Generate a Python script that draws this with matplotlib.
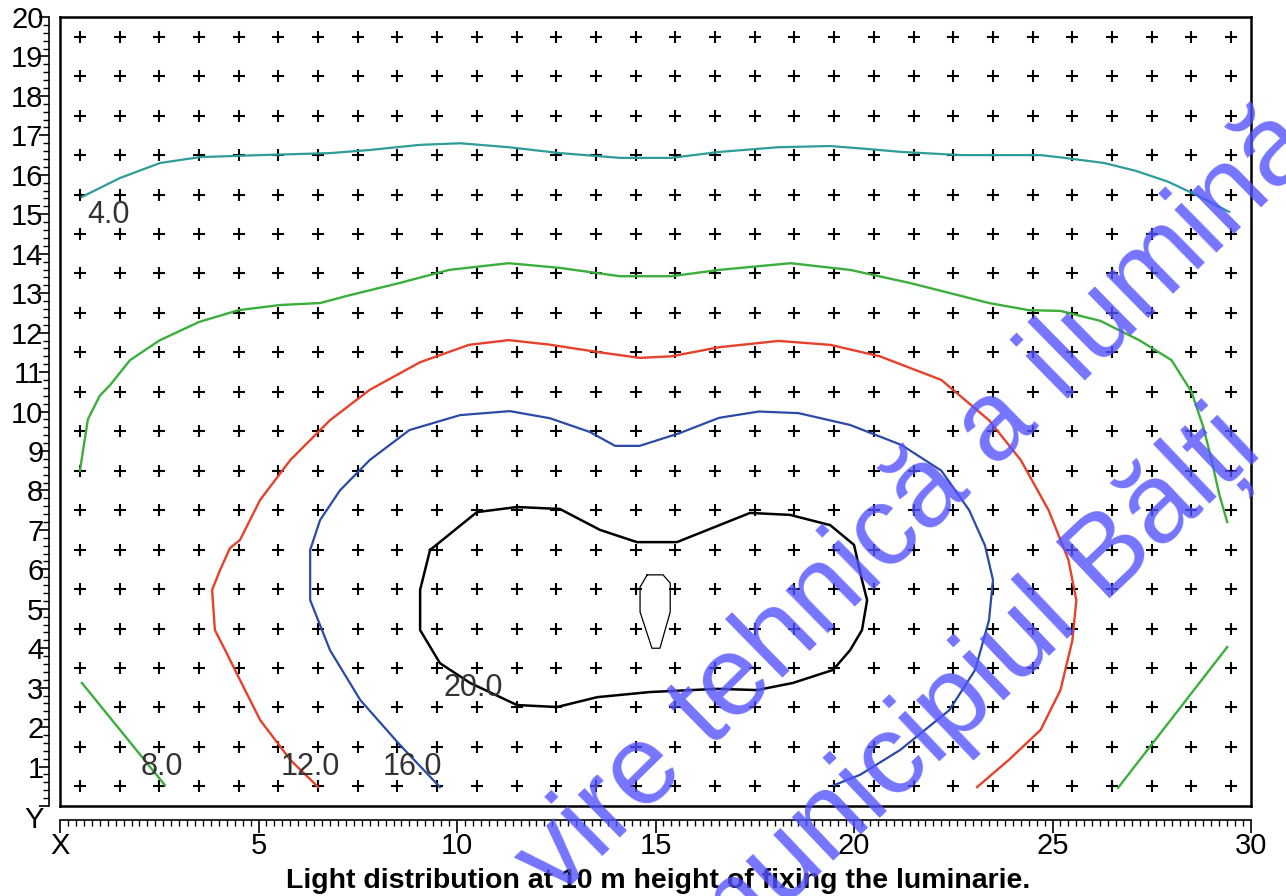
import matplotlib
matplotlib.use("Agg")
import matplotlib.pyplot as plt
import numpy as np
from matplotlib.ticker import MultipleLocator, FixedLocator

plt.rcParams["font.family"] = ["Liberation Sans", "DejaVu Sans"]

# calculation grid (points every 1 m, centred in the cells)
grid_x = np.arange(0.5, 30, 1.0)
grid_y = np.arange(0.5, 20, 1.0)

# isolux lines (x, y in m)
iso4_x = [0.55, 1.51, 2.52, 3.53, 5.04, 6.8, 7.8, 9.07, 10.08, 11.3, 12.6, 14.1, 15.4, 16.6,
          18.1, 19.4, 20.4, 21.2, 22.7, 24.0, 24.7, 25.3, 26.3, 27.1, 27.9, 28.6, 29.45]
iso4_y = [15.44, 15.92, 16.3, 16.45, 16.5, 16.55, 16.63, 16.76, 16.8, 16.7, 16.55, 16.43, 16.43, 16.58,
          16.7, 16.73, 16.65, 16.58, 16.5, 16.5, 16.5, 16.43, 16.3, 16.1, 15.83, 15.5, 15.06]

iso8_x = [0.5, 0.7, 1.0, 1.26, 1.76, 2.5, 3.5, 4.5, 5.54, 6.55, 7.3, 8.56, 9.8, 11.3, 12.6, 14.1,
          15.4, 16.6, 18.4, 19.9, 21.4, 22.7, 23.4, 24.4, 25.2, 26.2, 27.2, 28.0, 28.5, 28.8, 29.0,
          29.2, 29.4]
iso8_y = [8.5, 9.8, 10.4, 10.67, 11.3, 11.8, 12.27, 12.57, 12.7, 12.75, 12.95, 13.26, 13.59, 13.76,
          13.64, 13.43, 13.43, 13.59, 13.76, 13.59, 13.26, 12.93, 12.75, 12.57, 12.55, 12.3, 11.8,
          11.3, 10.5, 9.6, 8.8, 7.9, 7.2]
iso8_left_x = [0.55, 2.64]
iso8_left_y = [3.12, 0.53]
iso8_right_x = [26.65, 29.4]
iso8_right_y = [0.46, 4.03]

iso12_x = [6.5, 5.8, 5.04, 4.53, 4.16, 3.9, 3.83, 4.03, 4.28, 4.53, 5.04, 5.8, 6.8, 7.8, 9.07,
           10.3, 11.3, 12.3, 13.6, 14.6, 15.4, 16.6, 18.1, 19.4, 20.65, 22.2, 23.4, 24.2, 24.9,
           25.4, 25.6, 25.5, 25.2, 24.7, 23.9, 23.1]
iso12_y = [0.48, 1.17, 2.18, 3.2, 3.95, 4.46, 5.48, 5.98, 6.54, 6.74, 7.76, 8.77, 9.78, 10.55,
           11.25, 11.69, 11.81, 11.7, 11.5, 11.36, 11.4, 11.63, 11.79, 11.69, 11.4, 10.8, 9.78,
           8.77, 7.5, 6.24, 5.22, 4.2, 2.94, 1.93, 1.17, 0.48]

iso16_x = [9.57, 8.56, 7.56, 6.8, 6.3, 6.3, 6.55, 7.05, 7.8, 8.8, 10.08, 11.33, 12.34, 13.35,
           13.98, 14.6, 15.6, 16.6, 17.6, 18.6, 19.9, 21.2, 22.2, 22.9, 23.3, 23.5, 23.4, 23.05,
           22.4, 21.16, 20.15, 19.5]
iso16_y = [0.48, 1.55, 2.69, 3.95, 5.22, 6.49, 7.25, 8.0, 8.77, 9.53, 9.91, 10.01, 9.83, 9.48,
           9.13, 9.13, 9.45, 9.84, 10.0, 9.96, 9.66, 9.15, 8.5, 7.5, 6.6, 5.73, 4.71, 3.45, 2.43,
           1.42, 0.79, 0.53]

iso20_x = [9.32, 10.5, 11.51, 12.59, 13.6, 14.53, 15.54, 17.38, 18.39, 19.4, 20.0, 20.2, 20.33,
           20.2, 19.9, 19.47, 18.46, 17.56, 16.55, 14.86, 13.53, 12.52, 11.51, 10.33, 9.57, 9.07,
           9.07, 9.32]
iso20_y = [6.49, 7.45, 7.58, 7.53, 7.0, 6.69, 6.69, 7.43, 7.38, 7.12, 6.62, 5.73, 5.22, 4.46,
           3.95, 3.45, 3.12, 2.94, 2.97, 2.89, 2.76, 2.51, 2.56, 3.12, 3.62, 4.46, 5.48, 6.49]

iso24_x = [14.79, 15.19, 15.37, 15.37, 15.11, 14.91, 14.61, 14.61, 14.79]
iso24_y = [5.86, 5.86, 5.65, 4.92, 4.0, 4.0, 4.92, 5.55, 5.86]

label_text = ["4.0", "8.0", "12.0", "16.0", "20.0"]
label_x = [1.21, 2.57, 6.3, 8.87, 10.4]
label_y = [14.98, 0.99, 0.99, 0.99, 2.99]

x_ticks = [0, 5, 10, 15, 20, 25, 30]
x_ticklabels = ["X", "5", "10", "15", "20", "25", "30"]
y_ticks = list(range(0, 21))
y_ticklabels = ["Y"] + [str(v) for v in range(1, 21)]

fig = plt.figure(figsize=(12.86, 8.96), dpi=100)
rect = [0.0467, 0.1004, 0.9261, 0.8806]
ax = fig.add_axes(rect)
ax.set_xlim(0, 30)
ax.set_ylim(0, 20)
ax.set_xticks([])
ax.set_yticks([])
for s in ax.spines.values():
    s.set_linewidth(1.8)

gx, gy = np.meshgrid(grid_x, grid_y)
ax.plot(gx.ravel(), gy.ravel(), "+", color="black", ms=8, mew=1.5, ls="none")

ax.plot(iso4_x, iso4_y, color="#2e9c98", lw=1.6)
ax.plot(iso8_x, iso8_y, color="#3cae3c", lw=1.7)
ax.plot(iso8_left_x, iso8_left_y, color="#3cae3c", lw=1.7)
ax.plot(iso8_right_x, iso8_right_y, color="#3cae3c", lw=1.7)
ax.plot(iso12_x, iso12_y, color="#e5412b", lw=1.7)
ax.plot(iso16_x, iso16_y, color="#2a4aa6", lw=1.6)
ax.plot(iso20_x, iso20_y, color="black", lw=1.8)
ax.plot(iso24_x, iso24_y, color="black", lw=0.9)

for t, lx, ly in zip(label_text, label_x, label_y):
    ax.text(lx, ly, t, fontsize=22, color="#333333", ha="center", va="center")

# offset axes carrying the ticks
ax2 = fig.add_axes(rect)
ax2.patch.set_visible(False)
ax2.set_xlim(0, 30)
ax2.set_ylim(0, 20)
ax2.spines["top"].set_visible(False)
ax2.spines["right"].set_visible(False)
ax2.spines["left"].set_position(("outward", 8))
ax2.spines["bottom"].set_position(("outward", 10))
ax2.spines["left"].set_linewidth(1.2)
ax2.spines["bottom"].set_linewidth(1.2)
ax2.xaxis.set_major_locator(FixedLocator(x_ticks))
ax2.xaxis.set_minor_locator(MultipleLocator(0.2))
ax2.yaxis.set_major_locator(FixedLocator(y_ticks))
ax2.yaxis.set_minor_locator(MultipleLocator(0.2))
ax2.set_xticklabels(x_ticklabels)
ax2.set_yticklabels(y_ticklabels)
ax2.tick_params(axis="both", which="major", direction="out", length=7, width=1.2,
                labelsize=21)
ax2.tick_params(axis="both", which="minor", direction="out", length=4, width=1.0)
ax2.tick_params(axis="x", which="major", length=9, pad=0)
ax2.tick_params(axis="y", which="major", pad=-3)
ax2.get_yticklabels()[0].set_verticalalignment("top")

fig.text(0.512, 1 - 881 / 896, "Light distribution at 10 m height of fixing the luminarie.",
         fontsize=20.5, fontweight="bold", ha="center", va="center")

# watermark
wm = dict(fontsize=82, color=(0.32, 0.32, 1.0), alpha=0.8,
          rotation_mode="anchor", ha="center", va="center", zorder=10)
fig.text(918 / 1286, 1 - 505 / 896, "vire tehnică a ilumină", rotation=44.5, **wm)
fig.text(968 / 1286, 1 - 692 / 896, "municipiul Bălți", rotation=43.5, **wm)

fig.savefig("out.png", dpi=100)
